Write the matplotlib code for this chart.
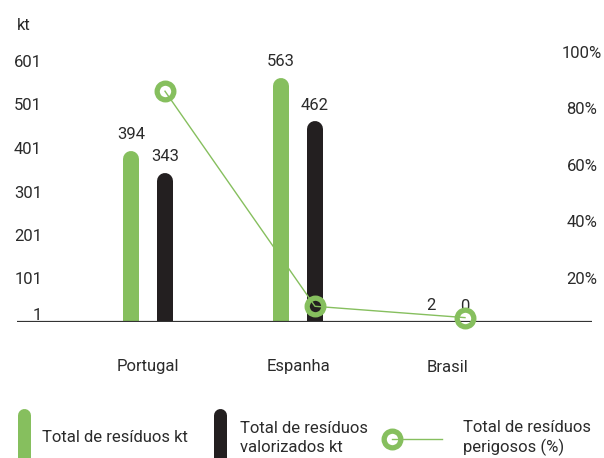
import numpy as np
import matplotlib
matplotlib.use("Agg")
import matplotlib.pyplot as plt
from matplotlib.lines import Line2D
from matplotlib.transforms import ScaledTranslation

# ---- data ----
categories = ["Portugal", "Espanha", "Brasil"]
total_kt = [394, 563, 2]
valorizados_kt = [343, 462, 0]
perigosos_pct = [86, 10, 6]
left_ticks = [1, 101, 201, 301, 401, 501, 601]
right_ticks = [20, 40, 60, 80, 100]
legend_labels = ["Total de resíduos kt", "Total de resíduos\nvalorizados kt",
                 "Total de resíduos\nperigosos (%)"]

GREEN = "#86BF5E"
BLACK = "#231F20"
TEXT = "#2B2B2B"
plt.rcParams['font.family'] = ['Roboto', 'DejaVu Sans']
FS = 12

W, H, DPI = 604, 458, 100
fig = plt.figure(figsize=(W / DPI, H / DPI), dpi=DPI)

# axes geometry in pixels
ax_left, ax_right, ax_top, ax_bottom = 17, 592, 40, 322
ax = fig.add_axes([ax_left / W, (H - ax_bottom) / H,
                   (ax_right - ax_left) / W, (ax_bottom - ax_top) / H])
ax2 = ax.twinx()

px_per_unit_x = 150.0
x0_px = 148.0
ax.set_xlim((ax_left - x0_px) / px_per_unit_x, (ax_right - x0_px) / px_per_unit_x)
px_per_kt = 0.435
ax.set_ylim(1, 1 + (ax_bottom - ax_top) / px_per_kt)
px_per_pct = 2.83
zero_pct_px = 334.6
ax2.set_ylim((zero_pct_px - ax_bottom) / px_per_pct, (zero_pct_px - ax_top) / px_per_pct)

for a in (ax, ax2):
    for s in a.spines.values():
        s.set_visible(False)

x = np.arange(len(categories))
off = 17 / px_per_unit_x
bar_w_px = 16
r_units = (bar_w_px / 2) / px_per_kt
lw_pt = bar_w_px * 72 / DPI

def rounded_bars(xs, vals, color):
    for xi, v in zip(xs, vals):
        ax.plot([xi, xi], [-200, v - r_units], color=color, lw=lw_pt,
                solid_capstyle='round', zorder=2)
        ax.annotate(f"{v}", (xi, v), xytext=(0, 8.5), textcoords='offset points',
                    ha='center', va='baseline', fontsize=FS, color=TEXT, zorder=5)

rounded_bars(x - off, total_kt, GREEN)
rounded_bars(x + off, valorizados_kt, BLACK)

ax.axhline(1, color="#333333", lw=1.6, zorder=4)

# left ticks
ax.set_yticks(left_ticks)
ax.set_yticklabels([str(t) for t in left_ticks])
ax.tick_params(axis='y', length=0, pad=-18, labelsize=FS, labelcolor=TEXT)
for lbl in ax.get_yticklabels():
    lbl.set_ha('right')
    if lbl.get_text() == "1":
        lbl.set_transform(lbl.get_transform() + ScaledTranslation(0, 8 / DPI, fig.dpi_scale_trans))

ax.set_xticks(x)
ax.set_xticklabels(categories)
ax.tick_params(axis='x', length=0, pad=27, labelsize=FS, labelcolor=TEXT)

# line on right axis
ax2.plot(x + off, perigosos_pct, color=GREEN, lw=1, marker='o', ms=12,
         mfc='none', mec=GREEN, mew=3.8, zorder=6, clip_on=False)
ax2.set_yticks(right_ticks)
ax2.set_yticklabels([f"{t}%" for t in right_ticks])
ax2.tick_params(axis='y', length=0, pad=-7.2, labelsize=FS, labelcolor=TEXT)
for lbl in ax2.get_yticklabels():
    lbl.set_ha('center')

fig.text(ax_left / W, 1 - 25 / H, "kt", fontsize=FS, color=TEXT, va='center', ha='left')

# legend (manual)
def fx(px):
    return px / W
def fy(py):
    return 1 - py / H

for cx, col in ((23.5, GREEN), (220, BLACK)):
    fig.add_artist(Line2D([fx(cx), fx(cx)], [fy(408 + 6.5), fy(480)], color=col,
                          lw=13 * 72 / DPI, solid_capstyle='round',
                          transform=fig.transFigure))
fig.add_artist(Line2D([fx(392), fx(442)], [fy(439), fy(439)], color=GREEN, lw=1,
                      transform=fig.transFigure))
fig.add_artist(Line2D([fx(392)], [fy(439)], color=GREEN, marker='o', ms=12,
                      mfc='none', mec=GREEN, mew=3.8, lw=0, transform=fig.transFigure))

fig.text(fx(42), fy(438), legend_labels[0], fontsize=FS, color=TEXT, va='center', ha='left')
fig.text(fx(240), fy(438), legend_labels[1], fontsize=FS, color=TEXT, va='center', ha='left',
         linespacing=1.35)
fig.text(fx(463), fy(438), legend_labels[2], fontsize=FS, color=TEXT, va='center', ha='left',
         linespacing=1.35)

fig.savefig("out.png", dpi=DPI)
